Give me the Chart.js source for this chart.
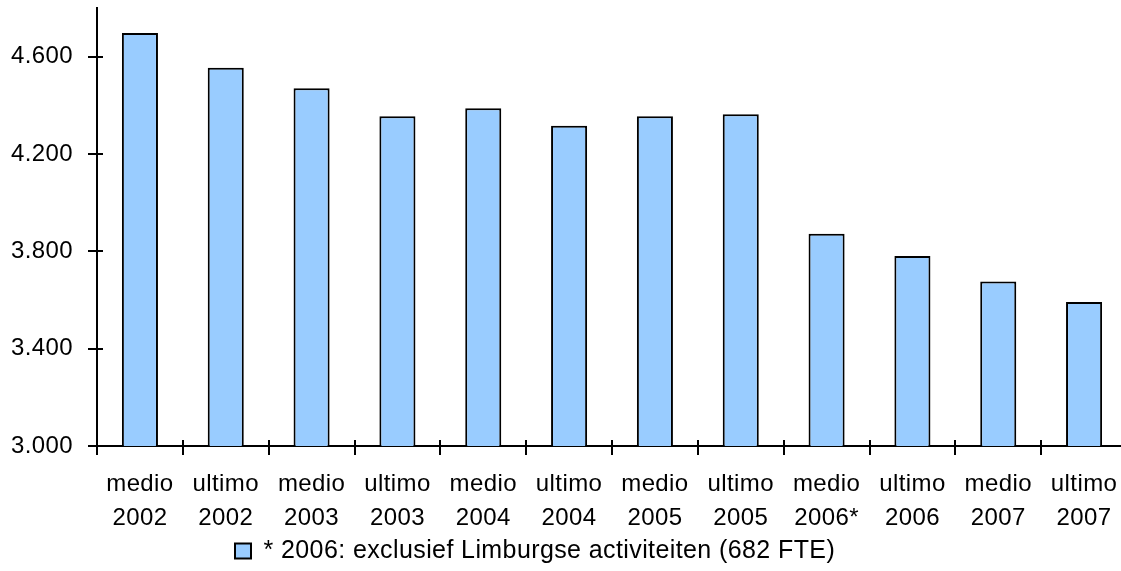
<!DOCTYPE html>
<html>
<head>
<meta charset="utf-8">
<script src="https://cdn.jsdelivr.net/npm/chart.js@4/dist/chart.umd.min.js"></script>
<style>
  html, body { margin: 0; padding: 0; background: #fff; overflow: hidden; }
  #wrap { position: relative; width: 1130px; height: 571px; }
</style>
</head>
<body>
<div id="wrap"><canvas id="c" width="1130" height="571"></canvas></div>
<script>
// Personeelsbestand (FTE) per half jaar
const periods = [
  ['medio', '2002'], ['ultimo', '2002'],
  ['medio', '2003'], ['ultimo', '2003'],
  ['medio', '2004'], ['ultimo', '2004'],
  ['medio', '2005'], ['ultimo', '2005'],
  ['medio', '2006*'], ['ultimo', '2006'],
  ['medio', '2007'], ['ultimo', '2007']
];
const fte = [4697, 4554, 4470, 4355, 4388, 4316, 4355, 4363, 3872, 3781, 3676, 3592];
const yTicks = [3000, 3400, 3800, 4200, 4600];
const seriesLabel = '* 2006: exclusief Limburgse activiteiten (682 FTE)';

const FAMILY = '"Liberation Sans", Arial, sans-serif';
const AXIS_FONT = { family: FAMILY, size: 24 };
const LEGEND_FONT = { family: FAMILY, size: 25 };

// Dutch thousands separator: 4600 -> "4.600"
const fmt = v => String(v).replace(/\B(?=(\d{3})+(?!\d))/g, '.');

// Slightly wider text tracking
const tracking = {
  id: 'tracking',
  beforeUpdate(chart) { chart.ctx.letterSpacing = '0.4px'; },
  beforeDraw(chart) { chart.ctx.letterSpacing = '0.4px'; }
};

// Tick marks that cross the axis lines (the part inside the plot area)
const crossTicks = {
  id: 'crossTicks',
  afterDraw(chart) {
    const { ctx, chartArea: a, scales: { x, y } } = chart;
    ctx.save();
    ctx.strokeStyle = '#000';
    ctx.lineWidth = 2;
    ctx.beginPath();
    y.ticks.forEach(t => {
      const py = Math.round(y.getPixelForValue(t.value));
      ctx.moveTo(a.left, py);
      ctx.lineTo(a.left + 6, py);
    });
    for (let i = 1; i < periods.length; i++) {
      const px = Math.round((x.getPixelForValue(i - 1) + x.getPixelForValue(i)) / 2);
      ctx.moveTo(px, a.bottom);
      ctx.lineTo(px, a.bottom - 6);
    }
    ctx.stroke();
    ctx.restore();
  }
};

// Legend row: starts at x = 235, centred on y = 553
const legendPlace = {
  id: 'legendPlace',
  afterLayout(chart) {
    const lg = chart.legend;
    const dy = 553 - (lg.top + lg.height / 2);
    lg.top += dy;
    lg.bottom += dy;
    lg.left = 235 - lg.options.labels.padding;
    lg.right = chart.width;
  }
};

new Chart(document.getElementById('c'), {
  type: 'bar',
  data: {
    labels: periods,
    datasets: [{
      label: seriesLabel,
      data: fte,
      backgroundColor: '#99CCFF',
      borderColor: '#000',
      borderWidth: 2,
      borderSkipped: false,
      barPercentage: 0.42,
      categoryPercentage: 1
    }]
  },
  options: {
    responsive: false,
    devicePixelRatio: 1,
    animation: false,
    layout: { padding: { top: 8, right: 3, left: 0, bottom: 0 } },
    plugins: {
      tooltip: { enabled: false },
      legend: {
        position: 'bottom',
        align: 'start',
        labels: {
          color: '#000',
          font: LEGEND_FONT,
          boxWidth: 16,
          boxHeight: 15,
          padding: 6
        }
      }
    },
    scales: {
      x: {
        afterFit: s => { s.height = 571 - 446 - s.chart.legend.height; },
        border: { color: '#000', width: 2 },
        grid: {
          offset: true,
          drawOnChartArea: false,
          drawTicks: true,
          tickLength: 9,
          color: '#000',
          lineWidth: 2
        },
        ticks: {
          color: '#000',
          font: Object.assign({ lineHeight: 1.417 }, AXIS_FONT),
          padding: 12,
          maxRotation: 0,
          autoSkip: false
        }
      },
      y: {
        min: 3000,
        max: 4800,
        afterBuildTicks: s => { s.ticks = yTicks.map(v => ({ value: v })); },
        afterFit: s => { s.width = 97; s.paddingTop = 0; s.paddingBottom = 0; },
        border: { color: '#000', width: 2 },
        grid: {
          drawOnChartArea: false,
          drawTicks: true,
          tickLength: 9,
          color: '#000',
          lineWidth: 2
        },
        ticks: {
          color: '#000',
          font: AXIS_FONT,
          padding: 15,
          callback: v => fmt(v)
        }
      }
    }
  },
  plugins: [tracking, crossTicks, legendPlace]
});
</script>
</body>
</html>
